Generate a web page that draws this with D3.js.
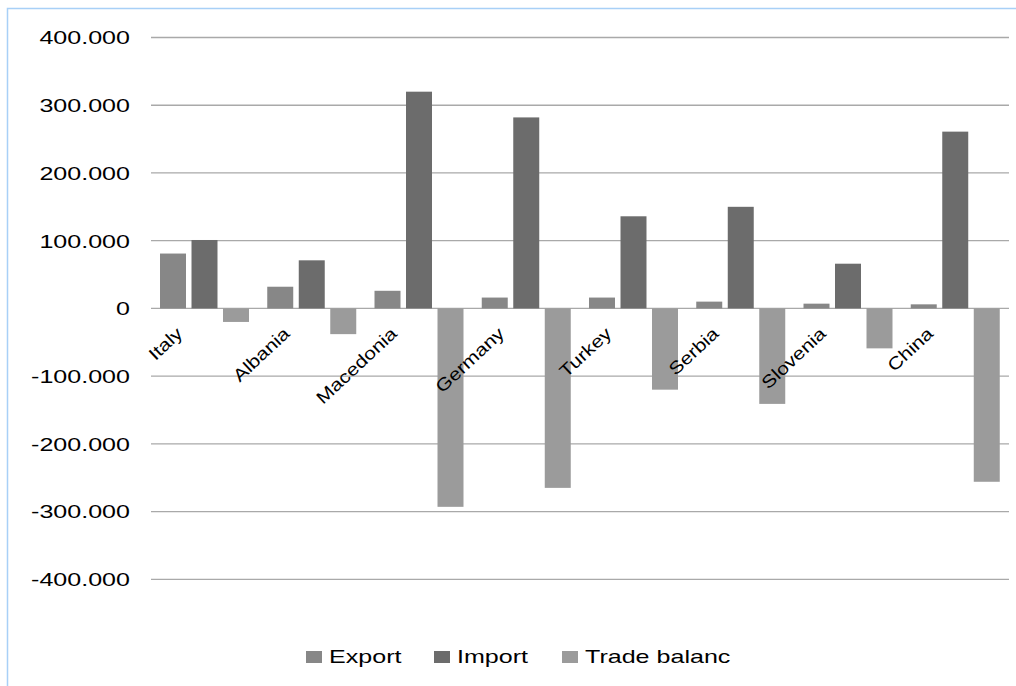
<html lang="en">
<head>
  <meta charset="UTF-8"/>
  <title>Export / Import / Trade balance</title>
  <script src="https://d3js.org/d3.v7.min.js"></script>
  <style>
    body {
      margin: 0;
      background: #fff;
      font-family: 'Liberation Sans', Arial, sans-serif;
    }
    svg {
      display: block;
    }
    .grid line {
      stroke: #a9a9a9;
      stroke-width: 1.3;
    }
    text {
      fill: #000;
    }
    text.tick-label {
      font-size: 19px;
    }
    text.cat {
      font-size: 17.5px;
    }
    text.legend {
      font-size: 19px;
    }
  </style>
</head>
<body>
  <svg width="1016" height="686"></svg>

<script>
  const countries = ['Italy', 'Albania', 'Macedonia', 'Germany', 'Turkey', 'Serbia', 'Slovenia', 'China'];
  const seriesNames = ['Export', 'Import', 'Trade balanc'];
  const exportValues = [81000, 32000, 26000, 16000, 16000, 10000, 7000, 6000];
  const importValues = [101000, 71000, 320000, 282000, 136000, 150000, 66000, 261000];
  const tradeValues = [-20000, -38000, -293000, -265000, -120000, -141000, -59000, -256000];
  const yTicks = [-400000, -300000, -200000, -100000, 0, 100000, 200000, 300000, 400000];
  const colors = ['#878787', '#6c6c6c', '#9b9b9b'];

  const values = [exportValues, importValues, tradeValues];
  const rows = countries.map((c, i) => ({
    country: c,
    bars: seriesNames.map((s, k) => ({ series: s, value: values[k][i], color: colors[k] }))
  }));

  const svg = d3.select('svg');
  const stretch = 1.32;

  // chart frame
  svg.append('rect')
    .attr('x', 7.5)
    .attr('y', 8.5)
    .attr('width', 1040)
    .attr('height', 700)
    .attr('fill', 'none')
    .attr('stroke', '#a8d0f7')
    .attr('stroke-width', 1.5);

  const left = 151, right = 1009;

  const x = d3.scaleBand()
    .domain(countries)
    .range([left, right])
    .padding(0);

  const xInner = d3.scaleBand()
    .domain(seriesNames)
    .range([9, x.bandwidth() - 9.25])
    .paddingInner(0.175);

  const y = d3.scaleLinear()
    .domain([-400000, 400000])
    .range([579.3, 37.5]);

  const locale = d3.formatLocale({ decimal: ',', thousands: '.', grouping: [3], currency: ['', ''], minus: '-' });
  const fmt = locale.format(',d');

  // horizontal grid lines
  svg.append('g')
    .attr('class', 'grid')
    .selectAll('line')
    .data(yTicks)
    .join('line')
    .attr('x1', left)
    .attr('x2', right)
    .attr('y1', d => y(d))
    .attr('y2', d => y(d));

  // y tick labels
  svg.append('g')
    .selectAll('text')
    .data(yTicks)
    .join('text')
    .attr('class', 'tick-label')
    .attr('transform', d => `translate(130, ${y(d)}) scale(${stretch}, 1)`)
    .attr('text-anchor', 'end')
    .attr('dy', '0.36em')
    .text(d => fmt(d));

  // bars
  const groups = svg.append('g')
    .selectAll('g')
    .data(rows)
    .join('g')
    .attr('transform', d => `translate(${x(d.country)}, 0)`);

  groups.selectAll('rect')
    .data(d => d.bars)
    .join('rect')
    .attr('x', d => xInner(d.series))
    .attr('width', xInner.bandwidth())
    .attr('y', d => y(Math.max(0, d.value)))
    .attr('height', d => Math.abs(y(d.value) - y(0)))
    .attr('fill', d => d.color);

  // category labels (rotated, slightly widened)
  svg.append('g')
    .selectAll('text')
    .data(countries)
    .join('text')
    .attr('class', 'cat')
    .attr('text-anchor', 'end')
    .attr('transform', d => `translate(${x(d) + x.bandwidth() / 2 - 21}, 335) rotate(-43) scale(1.2, 1)`)
    .text(d => d);

  // legend
  const legend = svg.append('g')
    .selectAll('g')
    .data(seriesNames)
    .join('g')
    .attr('transform', (d, i) => `translate(${306 + i * 128}, 651)`);

  legend.append('rect')
    .attr('width', 16)
    .attr('height', 12)
    .attr('fill', (d, i) => colors[i]);

  legend.append('text')
    .attr('class', 'legend')
    .attr('transform', `translate(23, 11.5) scale(${stretch}, 1)`)
    .text(d => d);
</script>
</body>
</html>
